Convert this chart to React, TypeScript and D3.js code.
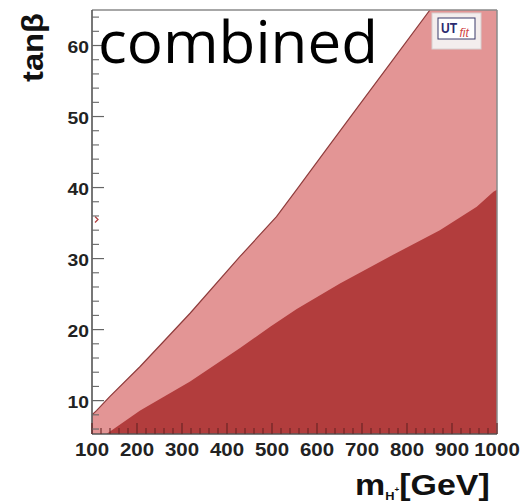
import React from "react";
import * as d3 from "d3";

// ---- data ----
const upperMass = [100, 110, 140, 207, 318, 429, 510, 556, 620, 688, 762, 851];
const upperTan = [8.0, 8.6, 10.6, 14.8, 22.3, 30.3, 35.9, 39.8, 45.3, 51.1, 57.4, 65.0];
const lowerMass = [132, 207, 318, 429, 496, 555, 651, 762, 873, 955, 992, 1000];
const lowerTan = [5.3, 8.6, 12.7, 17.4, 20.4, 22.9, 26.5, 30.3, 34.0, 37.3, 39.4, 39.7];
const xTicks = [100, 200, 300, 400, 500, 600, 700, 800, 900, 1000];
const yTicks = [10, 20, 30, 40, 50, 60];
const strayMarkMass = [110];
const strayMarkTan = [35.5];

const W = 522;
const H = 504;
const LIGHT = "#e39595";
const DARK = "#b23d3d";
const SX = 1.17; // horizontal text stretch seen in the reference

export default function App() {
  const x = d3.scaleLinear().domain([100, 1000]).range([92, 497]);
  const y = d3.scaleLinear().domain([5.3, 65]).range([434, 10]);
  const [yMin, yMax] = y.domain();

  const upperPts: [number, number][] = upperMass.map((m, i) => [m, upperTan[i]]);
  const lightPts: [number, number][] = [...upperPts, [1000, yMax]];
  const lowerPts: [number, number][] = lowerMass.map((m, i) => [m, lowerTan[i]]);

  const area = d3
    .area<[number, number]>()
    .x((d) => x(d[0]))
    .y0(() => y(yMin))
    .y1((d) => y(d[1]))
    .curve(d3.curveLinear);
  const line = d3
    .line<[number, number]>()
    .x((d) => x(d[0]))
    .y((d) => y(d[1]))
    .curve(d3.curveLinear);

  const xMinor = d3.range(100, 1000.1, 20).filter((v) => !xTicks.includes(v));
  const yMinor = d3.range(6, 65, 2).filter((v) => !yTicks.includes(v));

  const font = "'Liberation Sans', Arial, Helvetica, sans-serif";

  return (
    <svg width={W} height={H} style={{ position: "absolute", left: 0, top: 0 }}>
      <rect x={0} y={0} width={W} height={H} fill="#fff" />
      <defs>
        <clipPath id="plot">
          <rect x={x(100)} y={y(yMax)} width={x(1000) - x(100)} height={y(yMin) - y(yMax)} />
        </clipPath>
      </defs>
      <g clipPath="url(#plot)">
        <path d={area(lightPts) || ""} fill={LIGHT} />
        <path d={area(lowerPts) || ""} fill={DARK} />
        <path d={line(upperPts) || ""} fill="none" stroke="#8e3b3b" strokeWidth={1.2} />
        {strayMarkMass.map((m, i) => (
          <path
            key={i}
            d={`M${x(m) - 1.5},${y(strayMarkTan[i]) - 3} L${x(m) + 1.5},${y(strayMarkTan[i])} L${x(m) - 1.5},${y(strayMarkTan[i]) + 3}`}
            fill="none"
            stroke="#b04040"
            strokeWidth={1.3}
          />
        ))}
      </g>

      {/* frame */}
      <line x1={x(100)} x2={x(1000)} y1={y(yMax)} y2={y(yMax)} stroke="#8a8a8a" strokeWidth={1.5} />
      <line x1={x(1000)} x2={x(1000)} y1={y(yMax)} y2={y(yMin)} stroke="#8a8a8a" strokeWidth={1.5} />
      <line x1={x(100)} x2={x(100)} y1={y(yMax)} y2={y(yMin)} stroke="#555" strokeWidth={1.6} />
      <line x1={x(100)} x2={x(1000)} y1={y(yMin)} y2={y(yMin)} stroke="#555" strokeWidth={1.6} />

      {/* x ticks */}
      {xTicks.map((t) => (
        <line key={"xt" + t} x1={x(t)} x2={x(t)} y1={y(yMin)} y2={y(yMin) - 11} stroke="#6a2525" strokeWidth={1.2} />
      ))}
      {xMinor.map((t) => (
        <line key={"xm" + t} x1={x(t)} x2={x(t)} y1={y(yMin)} y2={y(yMin) - 6} stroke="#6a2525" strokeWidth={1.1} />
      ))}
      {/* y ticks */}
      {yTicks.map((t) => (
        <line key={"yt" + t} x1={x(100)} x2={x(100) + 12} y1={y(t)} y2={y(t)} stroke="#666" strokeWidth={1.2} />
      ))}
      {yMinor.map((t) => (
        <line key={"ym" + t} x1={x(100)} x2={x(100) + 7} y1={y(t)} y2={y(t)} stroke="#666" strokeWidth={1.1} />
      ))}

      {/* tick labels */}
      {xTicks.map((t) => (
        <text
          key={"xl" + t}
          transform={`translate(${x(t)},456) scale(${SX},1)`}
          textAnchor="middle"
          fontFamily={font}
          fontWeight="bold"
          fontSize={17.5}
          fill="#222"
        >
          {t}
        </text>
      ))}
      {yTicks.map((t) => (
        <text
          key={"yl" + t}
          transform={`translate(89,${y(t) + 7}) scale(${SX},1)`}
          textAnchor="end"
          fontFamily={font}
          fontWeight="bold"
          fontSize={16.5}
          fill="#222"
        >
          {t}
        </text>
      ))}

      {/* axis titles */}
      <text
        transform="translate(43,47.5) rotate(-90)"
        textAnchor="middle"
        fontFamily={font}
        fontWeight="bold"
        fontSize={29}
        textLength={69}
        lengthAdjust="spacingAndGlyphs"
        fill="#111"
      >
        tanβ
      </text>
      <text transform={`translate(355,495) scale(${SX},1)`} fontFamily={font} fontWeight="bold" fontSize={29} fill="#111">
        m
        <tspan fontSize={11} dy={5}>H</tspan>
        <tspan fontSize={7} dy={-8}>+</tspan>
        <tspan fontSize={29} dy={3}>[GeV]</tspan>
      </text>

      {/* overlay label */}
      <text
        x={98}
        y={63}
        fontFamily="'Comic Sans MS', 'Open Sans', sans-serif"
        fontSize={58}
        textLength={280}
        lengthAdjust="spacingAndGlyphs"
        fill="#000"
      >
        combined
      </text>

      {/* UTfit logo */}
      <rect x={432} y={13} width={49} height={36} fill="#f3eded" stroke="#d8d0d0" strokeWidth={1} />
      <rect x={438} y={18} width={37} height={21} fill="#fff" stroke="#3a3a6a" strokeWidth={1} />
      <text transform="translate(441,33) scale(0.78,1)" fontFamily={font} fontWeight="bold" fontSize={15.5} fill="#2b2b70">
        UT
      </text>
      <text transform="translate(459.5,37) scale(0.95,1)" fontFamily={font} fontStyle="italic" fontSize={12.5} fill="#d04545">
        fit
      </text>
    </svg>
  );
}
